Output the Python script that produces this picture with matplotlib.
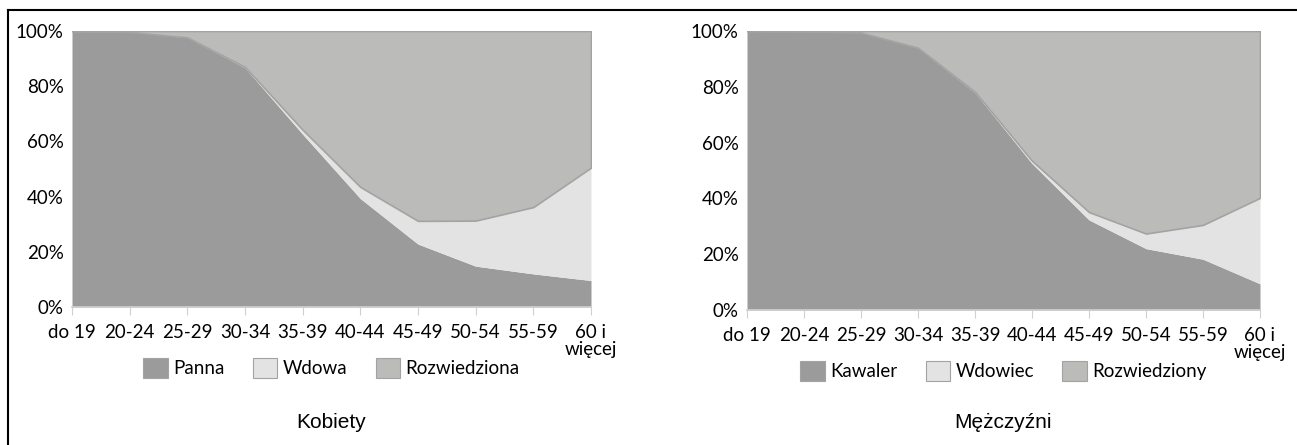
import matplotlib
matplotlib.use("Agg")
import matplotlib.pyplot as plt
from matplotlib.lines import Line2D
from matplotlib.ticker import FuncFormatter

# age groups (x axis)
kategorie = ['do 19', '20-24', '25-29', '30-34', '35-39', '40-44',
             '45-49', '50-54', '55-59', '60 i\nwięcej']

# women, shares in %
panna = [100, 99.6, 97.6, 86.7, 62.6, 39.3, 22.8, 14.8, 12.0, 9.6]
wdowa = [0, 0, 0.1, 0.3, 1.6, 4.2, 8.4, 16.5, 24.2, 40.9]

# men, shares in %
kawaler = [100, 99.9, 99.4, 93.9, 77.9, 52.5, 32.3, 22.0, 18.2, 9.4]
wdowiec = [0, 0, 0, 0.1, 0.3, 1.0, 2.8, 5.4, 12.3, 30.8]

etykiety_k = ['Panna', 'Wdowa', 'Rozwiedziona']
etykiety_m = ['Kawaler', 'Wdowiec', 'Rozwiedziony']

c_dark = '#9b9b9b'
c_light = '#e3e3e3'
c_mid = '#bbbbba'
c_edge = '#a3a3a3'

W, H = 1297, 445
fig = plt.figure(figsize=(W / 100, H / 100), dpi=100)


def panel(rect, pierwsza, druga, etykiety, tytul, leg_y, tyt_y):
    ax = fig.add_axes(rect)
    x = list(range(len(kategorie)))
    dol = [a + b for a, b in zip(pierwsza, druga)]
    ax.fill_between(x, 0, pierwsza, color=c_dark, lw=0, label=etykiety[0])
    ax.fill_between(x, pierwsza, dol, color=c_light, lw=0, label=etykiety[1])
    ax.fill_between(x, dol, 100, facecolor=c_mid, edgecolor=c_edge, lw=1.2,
                    label=etykiety[2])
    ax.set_xlim(0, len(kategorie) - 1)
    ax.set_ylim(0, 100)
    ax.set_xticks(x)
    ax.set_xticklabels(kategorie, family='Lato', fontsize=13.5,
                       linespacing=1.0)
    ax.set_yticks([0, 20, 40, 60, 80, 100])
    ax.yaxis.set_major_formatter(FuncFormatter(lambda v, p: f'{v:.0f}%'))
    for lab in ax.get_yticklabels():
        lab.set_family('Lato')
        lab.set_fontsize(13.5)
    ax.tick_params(axis='y', length=0, pad=6)
    ax.tick_params(axis='x', length=6, color='#d0d0d0', pad=6)
    for s in ['top', 'right', 'left']:
        ax.spines[s].set_visible(False)
    ax.spines['bottom'].set_color('#d0d0d0')
    ax.spines['bottom'].set_linewidth(1.2)

    cx = rect[0] + rect[2] / 2
    leg = fig.legend(*ax.get_legend_handles_labels(), loc='center',
                     bbox_to_anchor=(cx, 1 - leg_y / H), ncol=3,
                     frameon=False, prop={'family': 'Lato', 'size': 13.5},
                     handlelength=1.3, handleheight=1.3,
                     handletextpad=0.3, columnspacing=1.5)
    for h in leg.legend_handles:
        h.set_edgecolor(c_edge)
        h.set_linewidth(0.8)
    fig.text(cx, 1 - tyt_y / H, tytul, ha='center', va='center',
             family='Liberation Sans', fontsize=15)
    return ax


panel([72 / W, 1 - 307 / H, 519 / W, 276 / H], panna, wdowa, etykiety_k,
      'Kobiety', 368, 422)
panel([747 / W, 1 - 310 / H, 513 / W, 279 / H], kawaler, wdowiec, etykiety_m,
      'Mężczyźni', 371, 423)

# outer frame (left and top edges)
fig.add_artist(Line2D([8 / W, 8 / W], [0, 1 - 10 / H], color='black', lw=1.5))
fig.add_artist(Line2D([8 / W, 1], [1 - 10 / H, 1 - 10 / H], color='black', lw=1.5))

fig.savefig('out.png', dpi=100)
